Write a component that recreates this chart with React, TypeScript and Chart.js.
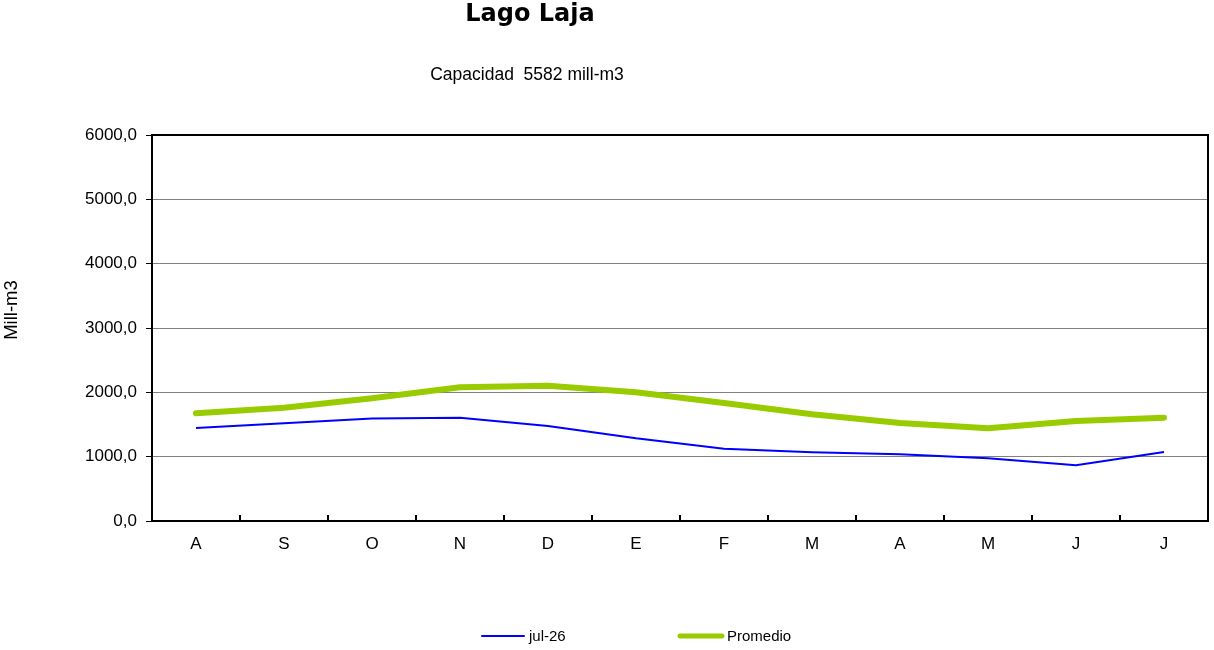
import React, { useEffect, useRef } from "react";
import { Chart, registerables } from "chart.js";

Chart.register(...registerables);

const categories = ["A", "S", "O", "N", "D", "E", "F", "M", "A", "M", "J", "J"];
const jul26 = [1446, 1518, 1595, 1606, 1477, 1285, 1124, 1067, 1036, 974, 866, 1073];
const promedio = [1674, 1762, 1907, 2078, 2104, 2000, 1835, 1660, 1525, 1440, 1554, 1606];
const yTicks = [0, 1000, 2000, 3000, 4000, 5000, 6000];
const titleText = "Lago Laja";
const subtitleText = "Capacidad  5582 mill-m3";
const yTitle = "Mill-m3";
const seriesNames = ["jul-26", "Promedio"];

const FONT = "'Liberation Sans', Arial, sans-serif";

const decorPlugin = {
  id: "decor",
  afterDatasetsDraw(chart: any) {
    const { ctx, chartArea } = chart;
    const xs = chart.scales.x;
    ctx.save();
    ctx.strokeStyle = "#000";
    ctx.lineWidth = 2;
    for (let i = 1; i < categories.length; i++) {
      const x = Math.round((xs.getPixelForValue(i - 1) + xs.getPixelForValue(i)) / 2);
      ctx.beginPath();
      ctx.moveTo(x, chartArea.bottom);
      ctx.lineTo(x, chartArea.bottom - 6);
      ctx.stroke();
    }
    ctx.strokeRect(chartArea.left, chartArea.top, chartArea.right - chartArea.left, chartArea.bottom - chartArea.top);
    ctx.restore();
  },
  afterDraw(chart: any) {
    const { ctx } = chart;
    ctx.save();
    ctx.fillStyle = "#000";
    ctx.textAlign = "center";
    ctx.textBaseline = "middle";
    ctx.font = "bold 24px 'DejaVu Sans', Verdana, sans-serif";
    ctx.fillText(titleText, 530, 15);
    ctx.font = "17.5px " + FONT;
    ctx.fillText(subtitleText, 527, 75);
    ctx.save();
    ctx.translate(12, 310);
    ctx.rotate(-Math.PI / 2);
    ctx.font = "18.5px " + FONT;
    ctx.fillText(yTitle, 0, 0);
    ctx.restore();
    const items = [
      { x: 482, color: "#0000FF", w: 2, label: seriesNames[0] },
      { x: 680, color: "#99CC00", w: 5, label: seriesNames[1] },
    ];
    ctx.textAlign = "left";
    ctx.font = "15px " + FONT;
    for (const it of items) {
      ctx.strokeStyle = it.color;
      ctx.lineWidth = it.w;
      ctx.lineCap = "round";
      ctx.beginPath();
      ctx.moveTo(it.x, 636);
      ctx.lineTo(it.x + 42, 636);
      ctx.stroke();
      ctx.fillText(it.label, it.x + 47, 637);
    }
    ctx.restore();
  },
};

export default function App() {
  const ref = useRef<HTMLCanvasElement>(null);
  useEffect(() => {
    document.body.style.margin = "0";
    const chart = new Chart(ref.current as HTMLCanvasElement, {
      type: "line",
      data: {
        labels: categories,
        datasets: [
          {
            label: seriesNames[0],
            data: jul26,
            borderColor: "#0000FF",
            borderWidth: 2,
            pointRadius: 0,
            tension: 0,
            fill: false,
          },
          {
            label: seriesNames[1],
            data: promedio,
            borderColor: "#99CC00",
            borderWidth: 6,
            borderCapStyle: "round",
            borderJoinStyle: "round",
            pointRadius: 0,
            tension: 0,
            fill: false,
          },
        ],
      },
      options: {
        animation: false,
        responsive: false,
        devicePixelRatio: 1,
        layout: { padding: { left: 0, top: 135, right: 6, bottom: 0 } },
        plugins: { legend: { display: false }, title: { display: false }, tooltip: { enabled: false } },
        scales: {
          x: {
            offset: true,
            grid: { display: false, drawTicks: false },
            border: { display: false },
            ticks: { color: "#000", font: { size: 17, family: FONT }, padding: 13 },
            afterFit: (s: any) => { s.height = 129; },
          },
          y: {
            min: 0,
            max: 6000,
            afterBuildTicks: (s: any) => { s.ticks = yTicks.map((v) => ({ value: v })); },
            grid: { color: "#808080", lineWidth: 1, tickColor: "#000", tickLength: 6 },
            border: { display: false },
            ticks: {
              color: "#000",
              font: { size: 17, family: FONT },
              padding: 9,
              callback: (v: any) => Number(v).toFixed(1).replace(".", ","),
            },
            afterFit: (s: any) => { s.width = 152; },
          },
        },
      },
      plugins: [decorPlugin],
    });
    return () => chart.destroy();
  }, []);
  return (
    <div style={{ width: 1214, height: 650, background: "#fff" }}>
      <canvas ref={ref} width={1214} height={650} style={{ display: "block" }} />
    </div>
  );
}
